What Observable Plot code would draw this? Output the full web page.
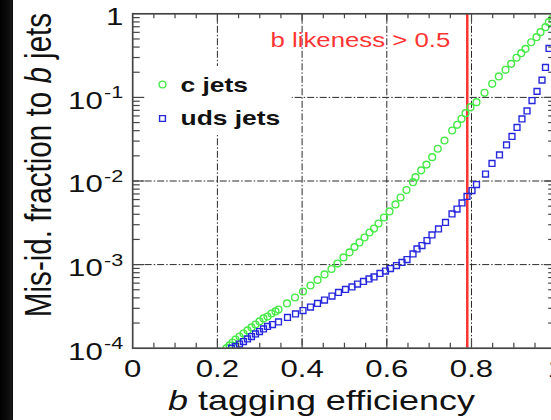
<!DOCTYPE html>
<html><head><meta charset="utf-8">
<script src="https://cdn.jsdelivr.net/npm/d3@7"></script>
<script src="https://cdn.jsdelivr.net/npm/@observablehq/plot@0.6"></script>
<style>
html,body{margin:0;padding:0;background:#fff;overflow:hidden;width:551px;height:420px;}
#wrap{position:relative;width:551px;height:420px;overflow:hidden;background:#fff;}
#wrap svg{position:absolute;left:0;top:0;max-width:none !important;width:560px !important;height:420px !important;}
#strip{position:absolute;left:0;top:0;width:13px;height:420px;background:linear-gradient(to right,#000 0,#0c0c0c 8px,#1a1a1a 12px,#050505 13px);z-index:2;}
</style></head><body><div id="wrap"><div id="strip"></div></div>
<script>
// ---- data ----
const seriesNames = ["c jets", "uds jets"];
const cEff = [0.2215,0.2286,0.2357,0.2427,0.2522,0.2616,0.2711,0.2805,0.2900,0.2994,0.3089,0.3183,0.3277,0.3372,0.3443,0.3643,0.3832,0.4021,0.4198,0.4364,0.4529,0.4694,0.4836,0.4978,0.5119,0.5237,0.5355,0.5473,0.5592,0.5698,0.5804,0.5934,0.6064,0.6205,0.6324,0.6465,0.6619,0.6678,0.6812,0.6937,0.7072,0.7204,0.7362,0.7544,0.7662,0.7764,0.7858,0.7976,0.8118,0.8307,0.8489,0.8645,0.8803,0.8937,0.9063,0.9174,0.9275,0.9410,0.9535,0.9629,0.9747,0.9825,0.9906];
const cMis = [1.00e-4,1.08e-4,1.17e-4,1.27e-4,1.38e-4,1.50e-4,1.63e-4,1.77e-4,1.92e-4,2.09e-4,2.27e-4,2.39e-4,2.60e-4,2.75e-4,2.90e-4,3.43e-4,4.04e-4,4.77e-4,5.62e-4,6.55e-4,7.62e-4,8.86e-4,1.03e-3,1.22e-3,1.40e-3,1.62e-3,1.84e-3,2.11e-3,2.42e-3,2.70e-3,3.10e-3,3.66e-3,4.32e-3,5.24e-3,6.35e-3,7.80e-3,9.68e-3,1.11e-2,1.34e-2,1.57e-2,1.93e-2,2.43e-2,3.05e-2,4.02e-2,4.70e-2,5.55e-2,6.47e-2,7.63e-2,8.77e-2,0.1135,0.1455,0.178,0.214,0.252,0.298,0.338,0.381,0.457,0.525,0.603,0.691,0.794,0.871];
const udsEff = [0.2333,0.2427,0.2522,0.2616,0.2711,0.2805,0.2900,0.2994,0.3089,0.3183,0.3301,0.3443,0.3655,0.3844,0.4021,0.4198,0.4364,0.4529,0.4706,0.4860,0.5025,0.5178,0.5308,0.5450,0.5580,0.5698,0.5839,0.5969,0.6087,0.6229,0.6359,0.6477,0.6619,0.6713,0.6831,0.6949,0.7067,0.7221,0.7386,0.7540,0.7658,0.7776,0.7894,0.8012,0.8118,0.8331,0.8484,0.8661,0.8827,0.8956,0.9075,0.9192,0.9311,0.9429,0.9547,0.9665,0.9747,0.9830];
const udsMis = [1.00e-4,1.05e-4,1.12e-4,1.20e-4,1.29e-4,1.38e-4,1.48e-4,1.58e-4,1.70e-4,1.82e-4,1.92e-4,2.06e-4,2.33e-4,2.57e-4,2.82e-4,3.11e-4,3.43e-4,3.77e-4,4.21e-4,4.64e-4,5.04e-4,5.40e-4,5.86e-4,6.28e-4,6.73e-4,7.11e-4,7.83e-4,8.38e-4,8.98e-4,9.75e-4,1.06e-3,1.15e-3,1.34e-3,1.54e-3,1.69e-3,1.94e-3,2.26e-3,2.67e-3,3.19e-3,4.03e-3,4.62e-3,5.46e-3,6.53e-3,7.69e-3,9.08e-3,1.21e-2,1.62e-2,2.05e-2,2.70e-2,3.41e-2,4.37e-2,5.52e-2,6.88e-2,9.18e-2,0.118,0.161,0.228,0.385];
const cutEff = [0.79];
const cutLabel = "b likeness > 0.5";
const xTickValues = [0, 0.2, 0.4, 0.6, 0.8, 1];
const xTickLabels = ["0", "0.2", "0.4", "0.6", "0.8", "1"];
const xMinorTicks = [0.05,0.1,0.15,0.25,0.3,0.35,0.45,0.5,0.55,0.65,0.7,0.75,0.85,0.9,0.95];
const xGridValues = [0.2, 0.4, 0.6, 0.8];
const yTickValues = [1, 0.1, 0.01, 0.001, 0.0001];
const yTickBase = ["1", "10", "10", "10", "10"];
const yTickExp = ["", "-1", "-2", "-3", "-4"];
const yGridValues = [0.1, 0.01, 0.001];
const yMinorMult = [2,3,4,5,6,7,8,9];
const yDecades = [1e-4, 1e-3, 1e-2, 1e-1];
const yTitle = ["Mis-id. fraction to ", "b", " jets"];
const xTitle = ["b", " tagging efficiency"];

// ---- tables ----
const cData = cEff.map((e, i) => ({eff: e, mis: cMis[i]}));
const udsData = udsEff.map((e, i) => ({eff: e, mis: udsMis[i]}));
const yMinor = yDecades.flatMap(d => yMinorMult.map(m => d * m));
const yLabelOne = yTickValues.map((v, i) => ({v, base: yTickBase[i], exp: yTickExp[i]})).filter(d => d.exp === "");
const yLabelPow = yTickValues.map((v, i) => ({v, base: yTickBase[i], exp: yTickExp[i]})).filter(d => d.exp !== "");

// ---- layout ----
const W = 560, H = 420, ML = 132.2, MR = 4.3, MT = 13.3, MB = 72.3;
const FW = W - ML - MR, FH = H - MT - MB;
const STRETCH = 1.27;
const axisCol = "#454545";
const green = "#46ea46", blue = "#2626dc", red = "#ff3434";
const grid = {stroke: "#2a2a2a", strokeWidth: 1, strokeDasharray: "7,2,1.5,2"};

const plot = Plot.plot({
  width: W, height: H,
  marginLeft: ML, marginRight: MR, marginTop: MT, marginBottom: MB,
  x: {domain: [0, 1], axis: null},
  y: {type: "log", domain: [1e-4, 1], axis: null},
  style: {background: "transparent", fontFamily: "'Liberation Sans', Arial, sans-serif", color: "#111", maxWidth: "none"},
  marks: [
    Plot.ruleX(xGridValues, {x: d => d, ...grid}),
    Plot.ruleY(yGridValues, {y: d => d, ...grid}),
    Plot.ruleX(cutEff, {x: d => d, stroke: red, strokeWidth: 2.5}),
    Plot.dot(cData, {x: "eff", y: "mis", r: 3.4, stroke: green, strokeWidth: 1.4, fill: "none", clip: true}),
    Plot.dot(udsData, {x: "eff", y: "mis", r: 3.3, symbol: "square", stroke: blue, strokeWidth: 1.4, fill: "none", clip: true}),
    // ticks (inside)
    Plot.tickX(xMinorTicks, {x: d => d, insetTop: FH - 5, stroke: axisCol, strokeWidth: 1.2}),
    Plot.tickX(xMinorTicks, {x: d => d, insetBottom: FH - 5, stroke: axisCol, strokeWidth: 1.2}),
    Plot.tickX(xGridValues, {x: d => d, insetTop: FH - 9, stroke: axisCol, strokeWidth: 1.2}),
    Plot.tickX(xGridValues, {x: d => d, insetBottom: FH - 9, stroke: axisCol, strokeWidth: 1.2}),
    Plot.tickY(yMinor, {y: d => d, insetRight: FW - 7.5, stroke: axisCol, strokeWidth: 1.2}),
    Plot.tickY(yMinor, {y: d => d, insetLeft: FW - 7.5, stroke: axisCol, strokeWidth: 1.2}),
    Plot.tickY(yGridValues, {y: d => d, insetRight: FW - 12, stroke: axisCol, strokeWidth: 1.2}),
    Plot.tickY(yGridValues, {y: d => d, insetLeft: FW - 12, stroke: axisCol, strokeWidth: 1.2}),
    Plot.frame({stroke: axisCol, strokeWidth: 1.7}),
    // tick labels
    Plot.text(xTickValues, {x: d => d, text: (d, i) => xTickLabels[i], frameAnchor: "bottom", lineAnchor: "middle", dy: 21, fontSize: 24.5, fill: "#111"}),
    Plot.text(yLabelOne, {y: "v", text: "base", frameAnchor: "left", textAnchor: "end", lineAnchor: "middle", dx: -9.5, dy: 3, fontSize: 24.5, fill: "#111"}),
    Plot.text(yLabelPow, {y: "v", text: "base", frameAnchor: "left", textAnchor: "end", lineAnchor: "middle", dx: -30, dy: 3.5, fontSize: 24.5, fill: "#111"}),
    Plot.text(yLabelPow, {y: "v", text: "exp", frameAnchor: "left", textAnchor: "end", lineAnchor: "middle", dx: -9.5, dy: -4.5, fontSize: 17, fill: "#111"}),
    // legend
    Plot.dot([seriesNames[0]], {frameAnchor: "top-left", dx: 29.8, dy: 70.7, r: 3.4, stroke: green, strokeWidth: 1.4, fill: "none"}),
    Plot.dot([seriesNames[1]], {frameAnchor: "top-left", dx: 29.8, dy: 104.7, r: 3.3, symbol: "square", stroke: blue, strokeWidth: 1.4, fill: "none"}),
    Plot.text([seriesNames[0]], {text: d => d, frameAnchor: "top-left", textAnchor: "start", lineAnchor: "middle", dx: 47.8, dy: 72, fontSize: 20.8, fontWeight: "bold", fill: "#111"}),
    Plot.text([seriesNames[1]], {text: d => d, frameAnchor: "top-left", textAnchor: "start", lineAnchor: "middle", dx: 47.8, dy: 104.3, fontSize: 20.8, fontWeight: "bold", fill: "#111"}),
    Plot.text([cutLabel], {text: d => d, frameAnchor: "top-left", textAnchor: "start", lineAnchor: "middle", dx: 137.8, dy: 26.2, fontSize: 20.3, fill: red})
  ]
});
plot.style.maxWidth = "none";
plot.setAttribute("width", W);
plot.setAttribute("height", H);

// white legend box over the grid lines
const gs = [...plot.children].filter(e => e.tagName.toLowerCase() === "g");
const box = document.createElementNS("http://www.w3.org/2000/svg", "rect");
box.setAttribute("x", ML + 1.5); box.setAttribute("y", 66);
box.setAttribute("width", 158); box.setAttribute("height", 69);
box.setAttribute("fill", "#fff");
gs[1].after(box);

// horizontal stretch of all texts (the reference image is widened)
plot.querySelectorAll("text").forEach(t => {
  const T = t.getAttribute("transform") || "";
  const ax = parseFloat(t.getAttribute("x")) || 0;
  t.setAttribute("transform", `${T} translate(${ax},0) scale(${STRETCH},1) translate(${-ax},0)`);
});

// axis titles
const svg = d3.select(plot);
const xt = svg.append("text")
  .attr("transform", `translate(321.5,410) scale(${STRETCH},1)`)
  .attr("text-anchor", "middle")
  .attr("font-size", 28.3).attr("fill", "#111")
  .attr("font-family", "'Liberation Sans', Arial, sans-serif");
xt.append("tspan").attr("font-style", "italic").text(xTitle[0]);
xt.append("tspan").text(xTitle[1]);
const yt = svg.append("text")
  .attr("transform", `translate(50.5,165) scale(${STRETCH},1) rotate(-90)`)
  .attr("text-anchor", "middle")
  .attr("font-size", 29.6).attr("fill", "#111")
  .attr("font-family", "'Liberation Sans', Arial, sans-serif");
yt.append("tspan").text(yTitle[0]);
yt.append("tspan").attr("font-style", "italic").text(yTitle[1]);
yt.append("tspan").text(yTitle[2]);

document.getElementById("wrap").appendChild(plot);
</script></body></html>
